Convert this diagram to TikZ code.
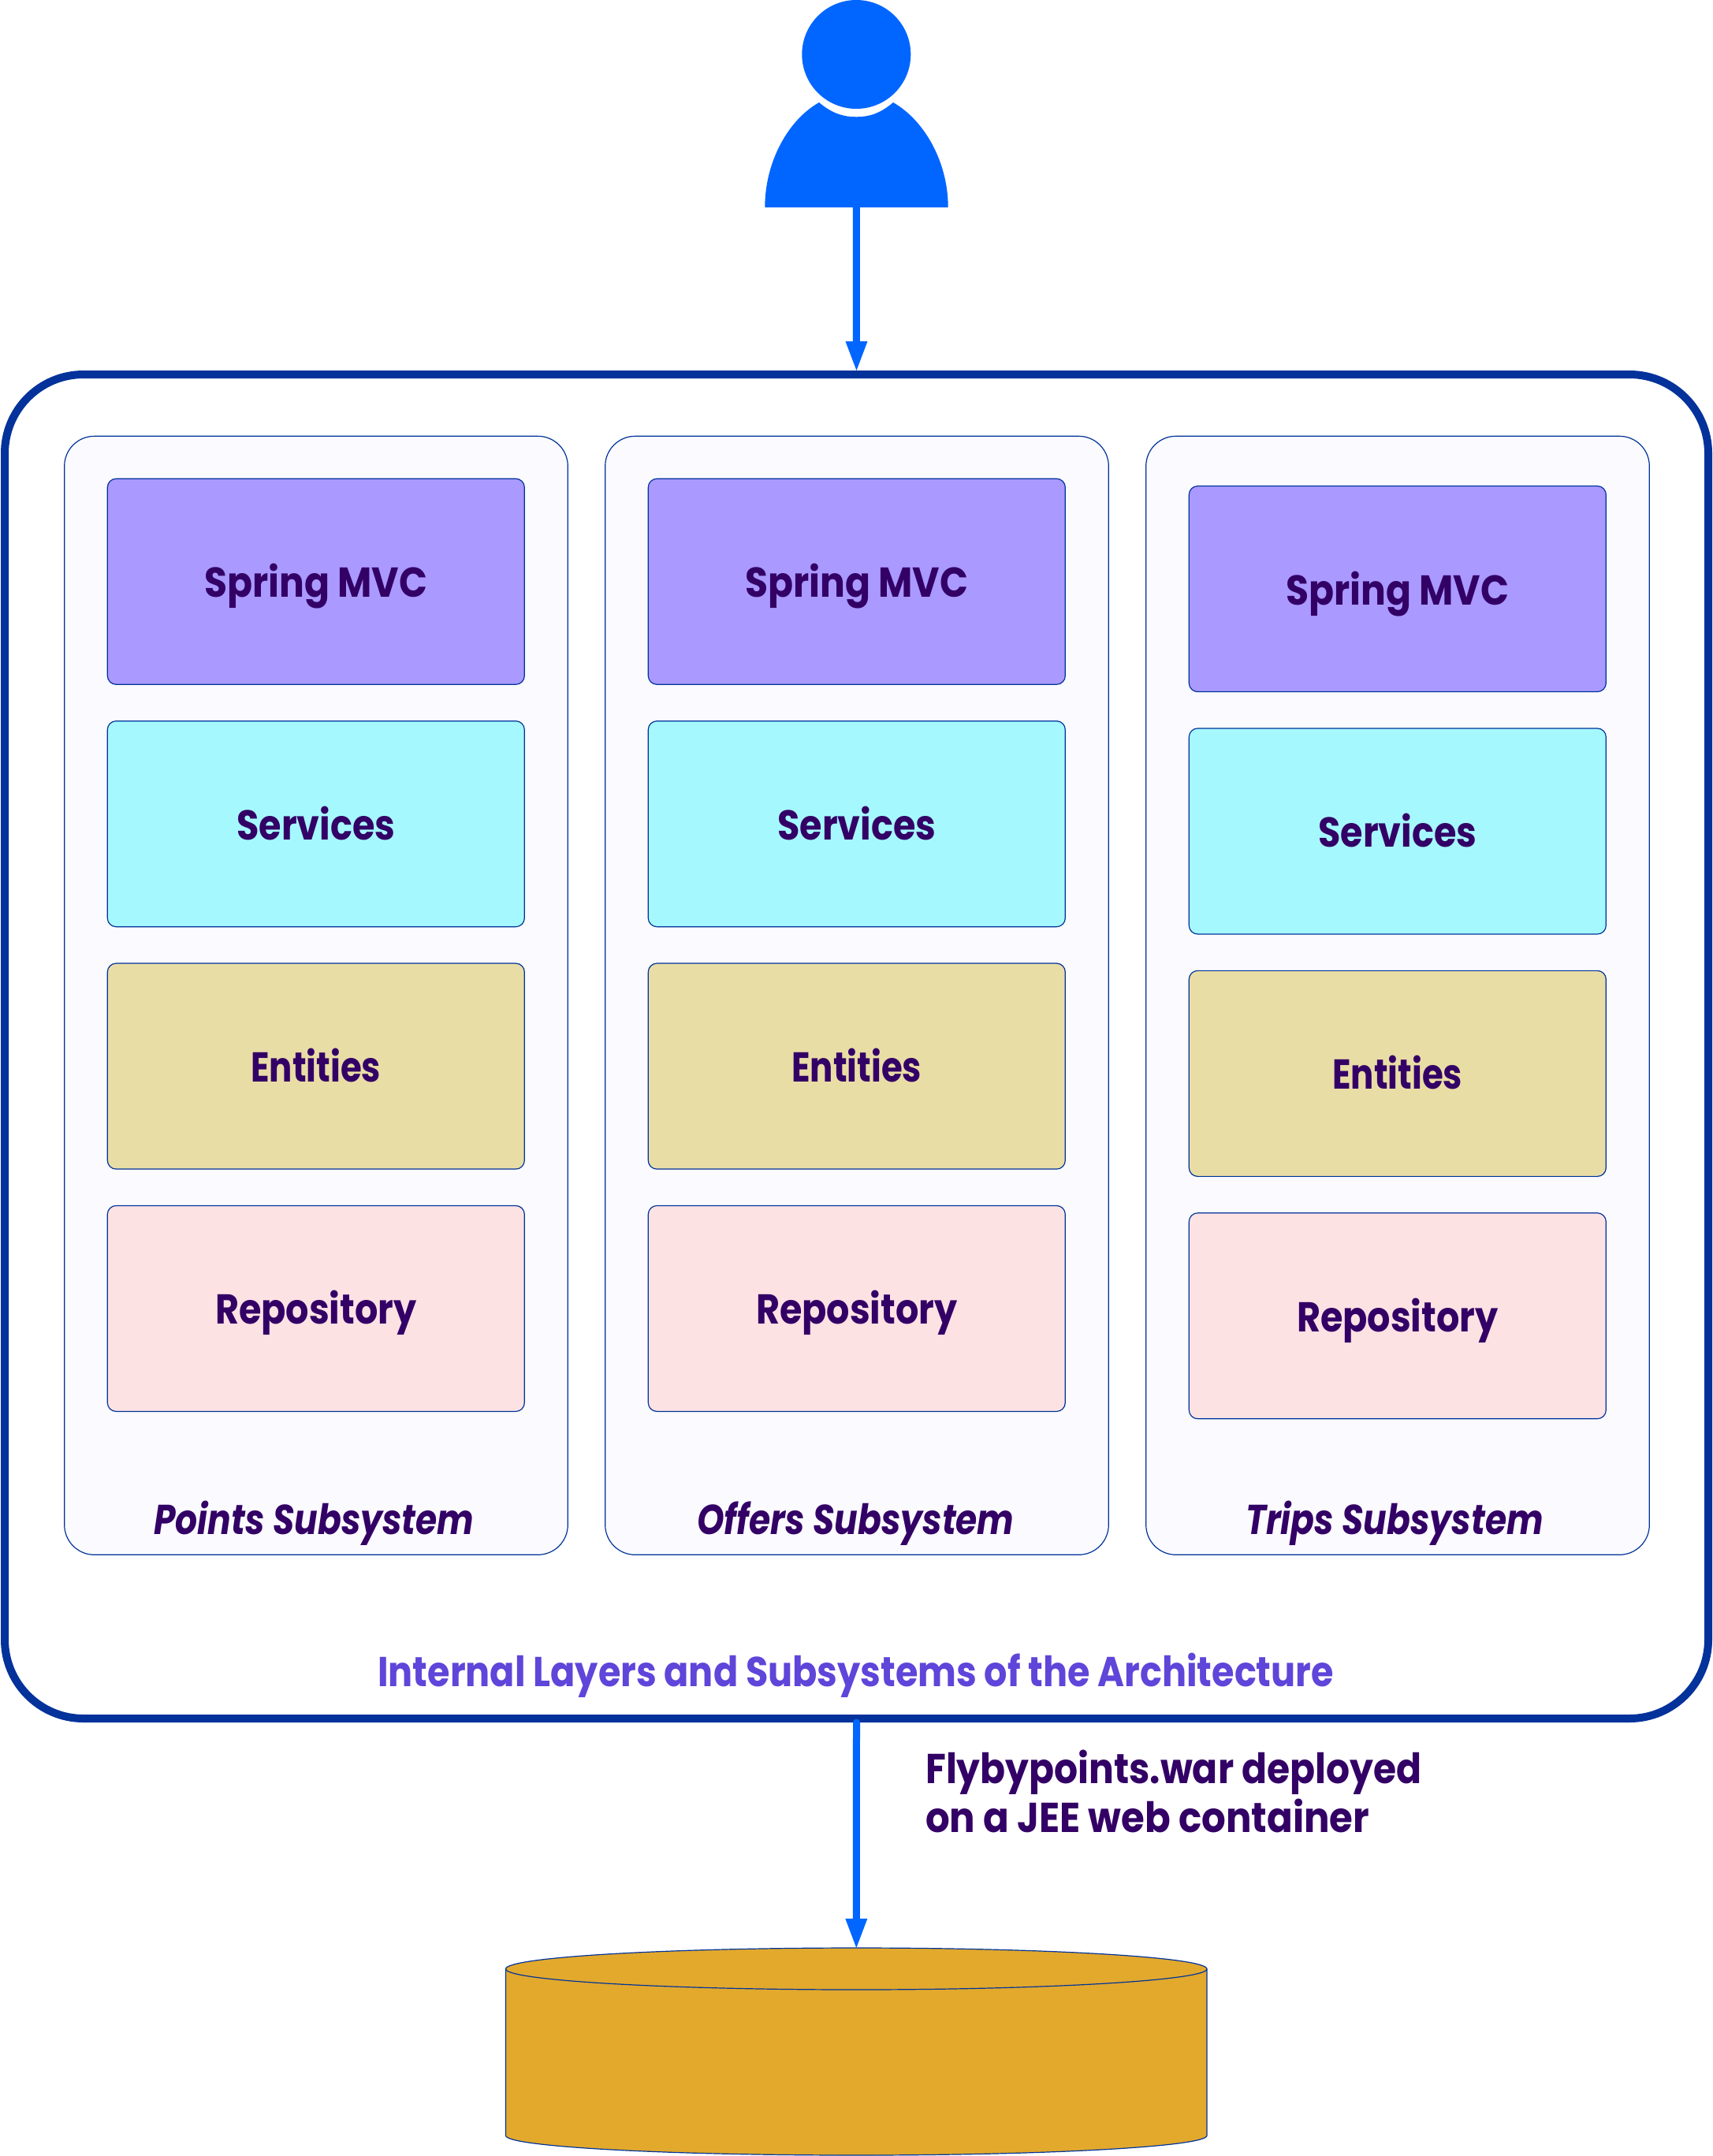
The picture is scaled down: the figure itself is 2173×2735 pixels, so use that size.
\documentclass[tikz,border=0pt]{standalone}
\usepackage{fontspec}
\usetikzlibrary{arrows.meta}
\newfontfamily\gfont[FakeStretch=0.87]{Poppins}
\newfontfamily\gfontnarrow[FakeStretch=0.82]{Poppins}
\newfontfamily\gfontwide[FakeStretch=0.89]{Poppins}
\newfontfamily\gfontwider[FakeStretch=0.91]{Poppins}
\newfontfamily\gfontital[FakeStretch=0.83]{Poppins}
\definecolor{navy}{HTML}{03329B}
\definecolor{thinline}{HTML}{003399}
\definecolor{userblue}{HTML}{0066FF}
\definecolor{txtdark}{HTML}{330066}
\definecolor{txttitle}{HTML}{5F45D9}
\definecolor{fillmvc}{HTML}{AA99FF}
\definecolor{fillsvc}{HTML}{A6F8FF}
\definecolor{fillent}{HTML}{E9DDA6}
\definecolor{fillrep}{HTML}{FDE2E4}
\definecolor{fillsub}{HTML}{FAFAFF}
\definecolor{filldb}{HTML}{E2A92D}
\tikzset{
  labelfont/.style={font=\gfont\bfseries\fontsize{53}{62}\selectfont},
  layerbox/.style={draw=thinline,line width=1.2pt,rounded corners=11pt,minimum width=529pt,minimum height=261pt,inner sep=0pt,text=txtdark,labelfont,text height=40pt,text depth=0pt},
  subbox/.style={draw=thinline,line width=1.2pt,fill=fillsub,rounded corners=38pt,minimum width=638.6pt,minimum height=1419pt,inner sep=0pt},
  sublabel/.style={anchor=base,inner sep=0pt,text=txtdark,font=\gfontital\bfseries\itshape\fontsize{53}{62}\selectfont},
  flow/.style={draw=userblue,line width=9pt,line cap=round,-{Triangle[length=37pt,width=28pt,fill=userblue,line width=0pt,round=false]}},
}
\begin{document}
\begin{tikzpicture}[x=1pt,y=-1pt]
\path[use as bounding box,fill=white] (0,0) rectangle (2173,2735);
% user
\fill[userblue] (970.3,263) .. controls (970.3,205) and (1000,152) .. (1039,130)
  .. controls (1056,144.5) and (1071,148.3) .. (1086.3,148.3)
  .. controls (1101.6,148.3) and (1116,144.5) .. (1133,130)
  .. controls (1172,152) and (1202.7,205) .. (1202.7,263) -- cycle;
\node[circle,fill=userblue,minimum size=138pt,inner sep=0pt] (head) at (1086.3,69) {};
\coordinate (userbase) at (1086.3,263);
% outer
\node[draw=navy,line width=10pt,rounded corners=100pt,minimum width=2161pt,minimum height=1705pt,inner sep=0pt] (outer) at (1086.5,1327.5) {};
% subsystems
\foreach \c/\dx/\dy/\lab/\lx in {a/0/0/Points/398.5,b/686/0/Offers/1085.5,c/1372/9.3/Trips/1769}{
  \node[subbox] (sub\c) at (401+\dx,1262.8) {};
  \node[layerbox,fill=fillmvc] (mvc\c) at (400.8+\dx,737.75+\dy) {\gfontwide\bfseries Spring MVC};
  \node[layerbox,fill=fillsvc] (svc\c) at (400.8+\dx,1045.15+\dy) {Services};
  \node[layerbox,fill=fillent] (ent\c) at (400.8+\dx,1352.55+\dy) {\gfontnarrow\bfseries Entities};
  \node[layerbox,fill=fillrep] (rep\c) at (400.8+\dx,1659.95+\dy) {Repository};
  \node[sublabel] (lab\c) at (\lx,1946) {\lab{} Subsystem};
}
\node[anchor=base,inner sep=0pt,text=txttitle,labelfont] (title) at (1085.6,2139.5) {Internal Layers and Subsystems of the Architecture};
\node[anchor=base west,inner sep=0pt,align=left,text=txtdark,labelfont] (war) at (1174,2324.5) {{\gfontwide\bfseries Flybypoints.war deployed}\\{\gfontwider\bfseries on a JEE web container}};
% database
\draw[thinline,line width=1.2pt,fill=filldb] (641.5,2497.7) -- (641.5,2709)
  .. controls (641.5,2723) and (841,2734) .. (1086.3,2734)
  .. controls (1331,2734) and (1531,2723) .. (1531,2709) -- (1531,2497.7)
  .. controls (1531,2483) and (1331,2471) .. (1086.3,2471)
  .. controls (841,2471) and (641.5,2483) .. (641.5,2497.7) -- cycle;
\draw[thinline,line width=1.2pt] (641.5,2497.7) .. controls (641.5,2512) and (841,2524) .. (1086.3,2524)
  .. controls (1331,2524) and (1531,2512) .. (1531,2497.7);
\node[minimum width=889.5pt,minimum height=263.5pt,inner sep=0pt,outer sep=0pt] (db) at (1086.3,2602.7) {};
% connectors
\path[flow] (userbase) -- (outer.north);
\path[flow] (outer.south) -- (db.north);
\end{tikzpicture}
\end{document}
